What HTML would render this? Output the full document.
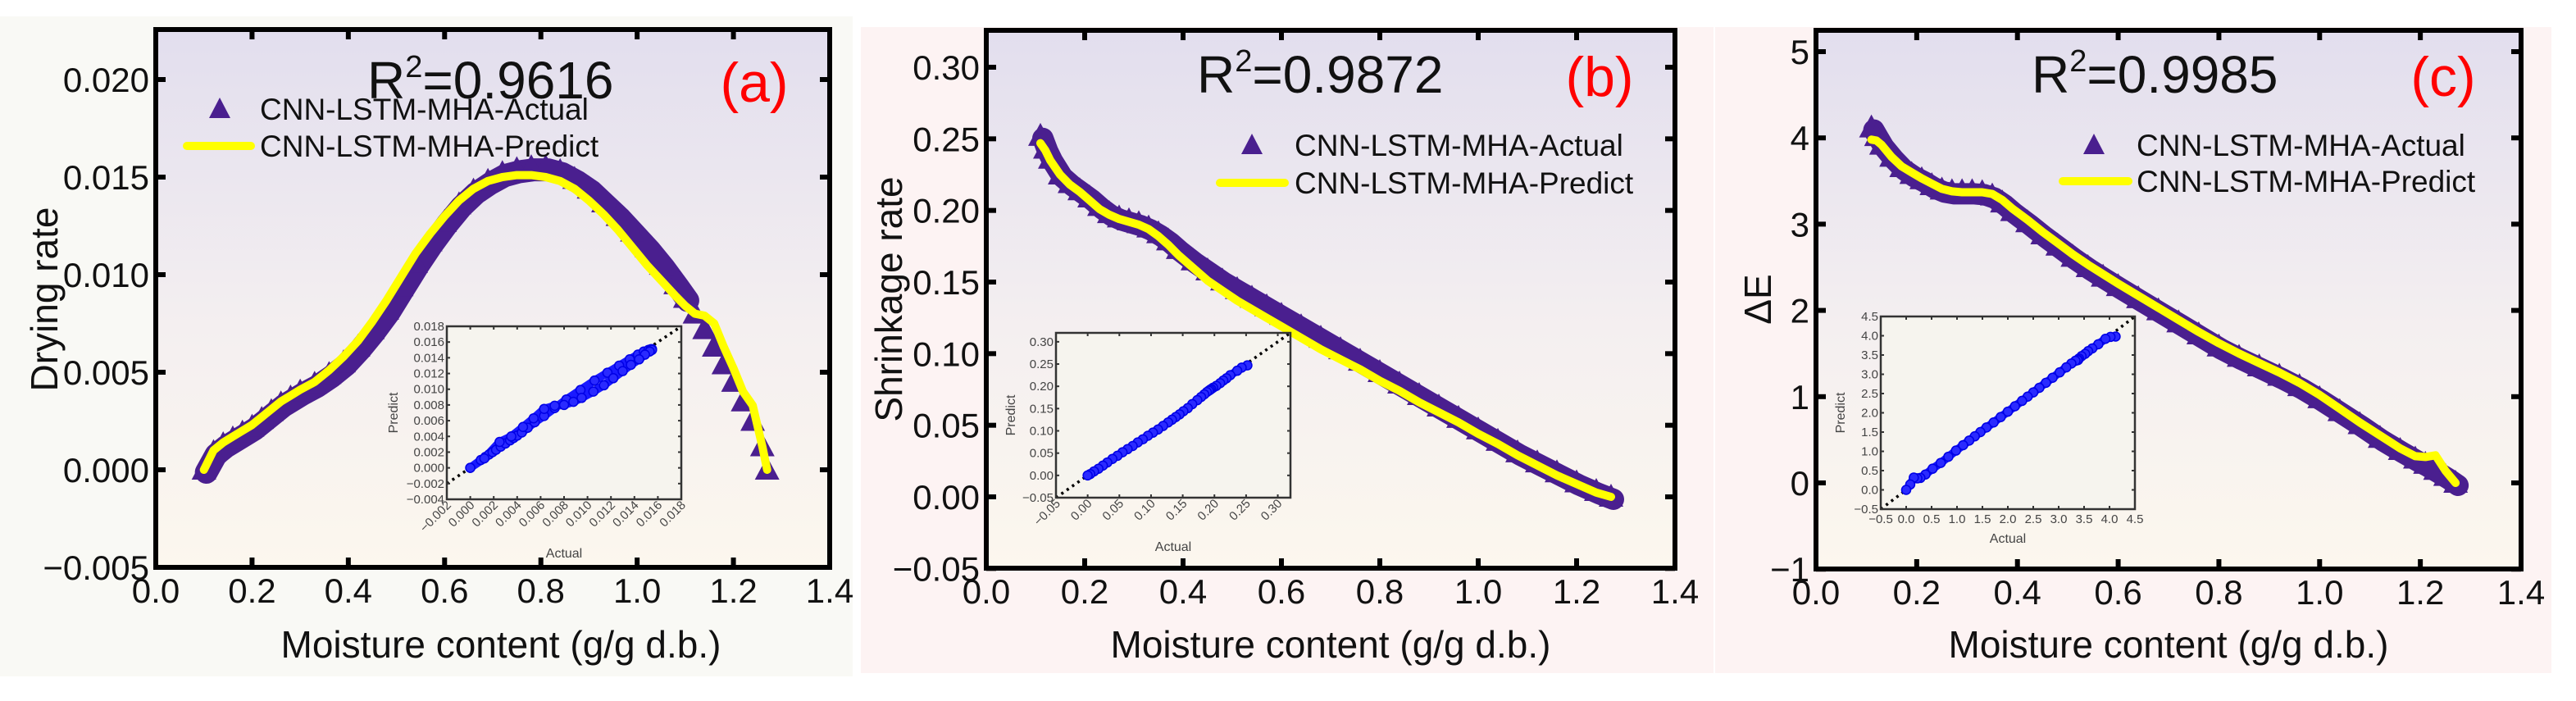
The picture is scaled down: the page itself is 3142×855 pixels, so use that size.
<!DOCTYPE html>
<html><head><meta charset="utf-8">
<style>
html,body{margin:0;padding:0;background:#fff;}
svg{display:block;font-family:"Liberation Sans",Arial,sans-serif;}
</style></head>
<body>
<svg id="fig" width="3142" height="855" viewBox="0 0 3142 855" xmlns="http://www.w3.org/2000/svg">
<defs>
<linearGradient id="plotbg" x1="0" y1="0" x2="0" y2="1">
<stop offset="0" stop-color="#e2deee"/>
<stop offset="0.55" stop-color="#f4eff0"/>
<stop offset="1" stop-color="#fcf7ee"/>
</linearGradient>
</defs>
<rect x="0" y="20" width="1040" height="805" fill="#f9f9f5"/>
<rect x="1050" y="33" width="1040" height="788" fill="#fdf3f3"/>
<rect x="2092" y="33" width="1020" height="788" fill="#fdf3f3"/>
</svg>
<script>
// ---------- Panel (a): Drying rate ----------
const aMoisture = [0.10,0.12,0.14,0.16,0.18,0.20,0.22,0.24,0.26,0.28,0.30,0.33,0.36,0.39,0.42,0.45,0.48,0.51,0.54,0.57,0.60,0.63,0.66,0.69,0.72,0.75,0.78,0.81,0.84,0.87,0.90,0.93,0.96,0.99,1.02,1.05,1.08,1.10,1.12,1.14,1.16,1.18,1.20,1.22,1.24,1.26,1.27];
const aActual   = [0.0000,0.0009,0.0013,0.0016,0.0019,0.0022,0.0026,0.0030,0.0034,0.0037,0.0040,0.0044,0.0049,0.0055,0.0063,0.0072,0.0082,0.0094,0.0106,0.0117,0.0127,0.0136,0.0143,0.0148,0.0152,0.0154,0.0155,0.0155,0.0153,0.0149,0.0144,0.0137,0.0130,0.0122,0.0114,0.0105,0.0095,0.0088,0.0080,0.0072,0.0063,0.0054,0.0045,0.0035,0.0025,0.0012,0.0000];
const aPredict  = [0.0000,0.0010,0.0014,0.0017,0.0020,0.0023,0.0027,0.0031,0.0035,0.0038,0.0041,0.0045,0.0051,0.0058,0.0066,0.0076,0.0087,0.0099,0.0111,0.0121,0.0130,0.0138,0.0144,0.0148,0.0150,0.0151,0.0151,0.0150,0.0148,0.0144,0.0138,0.0131,0.0123,0.0114,0.0105,0.0097,0.0089,0.0084,0.0080,0.0079,0.0075,0.0063,0.0052,0.0040,0.0033,0.0012,0.0000];
const aYTicks = [-0.005,0.000,0.005,0.010,0.015,0.020];
const aYLabels = ["\u22120.005","0.000","0.005","0.010","0.015","0.020"];
const aInsetTicks = [-0.002,0.000,0.002,0.004,0.006,0.008,0.010,0.012,0.014,0.016,0.018];
const aInsetYTicks = [-0.004,-0.002,0.000,0.002,0.004,0.006,0.008,0.010,0.012,0.014,0.016,0.018];

// ---------- Panel (b): Shrinkage rate ----------
const bMoisture = [0.11,0.12,0.13,0.15,0.17,0.19,0.21,0.23,0.25,0.27,0.29,0.31,0.33,0.35,0.37,0.39,0.42,0.45,0.48,0.51,0.54,0.57,0.60,0.64,0.68,0.72,0.76,0.80,0.84,0.88,0.92,0.96,1.00,1.04,1.08,1.12,1.16,1.20,1.24,1.27];
const bActual   = [0.252,0.243,0.236,0.225,0.219,0.214,0.209,0.203,0.198,0.195,0.193,0.191,0.188,0.184,0.179,0.173,0.165,0.158,0.151,0.145,0.139,0.133,0.127,0.119,0.111,0.103,0.095,0.087,0.079,0.071,0.063,0.055,0.047,0.039,0.031,0.024,0.017,0.010,0.004,0.000];
const bPredict  = [0.247,0.242,0.235,0.225,0.218,0.213,0.207,0.201,0.197,0.194,0.192,0.190,0.187,0.182,0.176,0.169,0.160,0.151,0.144,0.137,0.131,0.125,0.119,0.111,0.103,0.096,0.089,0.081,0.074,0.066,0.059,0.052,0.044,0.037,0.029,0.022,0.015,0.009,0.003,0.000];
const bYTicks = [-0.05,0.00,0.05,0.10,0.15,0.20,0.25,0.30];
const bYLabels = ["\u22120.05","0.00","0.05","0.10","0.15","0.20","0.25","0.30"];
const bInsetTicks = [-0.05,0.00,0.05,0.10,0.15,0.20,0.25,0.30];

// ---------- Panel (c): Delta E ----------
const cMoisture = [0.11,0.12,0.13,0.15,0.17,0.19,0.21,0.23,0.25,0.27,0.29,0.31,0.33,0.35,0.37,0.39,0.42,0.45,0.48,0.51,0.54,0.57,0.60,0.64,0.68,0.72,0.76,0.80,0.84,0.88,0.92,0.96,1.00,1.04,1.08,1.12,1.16,1.19,1.21,1.23,1.25,1.27];
const cActual   = [4.12,4.02,3.92,3.78,3.66,3.58,3.52,3.45,3.40,3.38,3.38,3.38,3.37,3.33,3.25,3.15,3.02,2.88,2.75,2.62,2.50,2.39,2.28,2.14,2.00,1.86,1.72,1.58,1.46,1.35,1.24,1.12,0.98,0.83,0.68,0.52,0.38,0.28,0.22,0.15,0.08,0.00];
const cPredict  = [3.98,3.97,3.92,3.78,3.67,3.60,3.53,3.47,3.41,3.38,3.37,3.37,3.37,3.35,3.28,3.18,3.05,2.91,2.78,2.65,2.53,2.42,2.31,2.17,2.03,1.89,1.75,1.62,1.50,1.39,1.28,1.16,1.02,0.86,0.70,0.55,0.40,0.31,0.30,0.32,0.14,0.00];
const cYTicks = [-1,0,1,2,3,4,5];
const cYLabels = ["\u22121","0","1","2","3","4","5"];
const cInsetTicks = [-0.5,0.0,0.5,1.0,1.5,2.0,2.5,3.0,3.5,4.0,4.5];
const cInsetLabels = ["\u22120.5","0.0","0.5","1.0","1.5","2.0","2.5","3.0","3.5","4.0","4.5"];

const xTicks = [0.0,0.2,0.4,0.6,0.8,1.0,1.2,1.4];
const xLabels = ["0.0","0.2","0.4","0.6","0.8","1.0","1.2","1.4"];

const NS = "http://www.w3.org/2000/svg";
const svg = document.getElementById('fig');
function mk(tag, attrs, parent, text){
  const e = document.createElementNS(NS, tag);
  for (const k in attrs) e.setAttribute(k, attrs[k]);
  if (text !== undefined) e.textContent = text;
  (parent || svg).appendChild(e);
  return e;
}
function fmt(v, d){ const s = Math.abs(v).toFixed(d); return (v < 0 ? "\u2212" : "") + s; }

function drawPanel(p){
  const g = mk('g', {});
  
  
  const X = v => p.L + (v - 0) / 1.4 * (p.R - p.L);
  const Y = v => p.y0px + (v - p.y0) / (p.y1 - p.y0) * (p.y1px - p.y0px);
  const bg = mk('rect', {x:p.L, y:p.T, width:p.R-p.L, height:p.B-p.T, fill:'url(#plotbg)'}, g);
  
  

  // dense band of overlapping triangles (actual series)
  let bd = '';
  let first = true;
  for (let i = 0; i < p.xs.length; i++){
    if (p.xs[i] > p.bandUntil) break;
    bd += (first ? 'M' : 'L') + (X(p.xs[i]) + 3).toFixed(1) + ',' + (Y(p.act[i]) + 3).toFixed(1);
    first = false;
  }
  const band = mk('path', {d:bd, fill:'none', stroke:'#4a1f8f', 'stroke-width':p.bandW, 'stroke-linejoin':'round', 'stroke-linecap':'round'}, g);
  
  

  const sg = mk('g', {fill:'#4a1f8f'}, g);
  
  
  for (let i = 0; i < p.xs.length; i++){
    const cx = X(p.xs[i]), cy = Y(p.act[i]);
    const t = mk('polygon', {points:`${cx-15},${cy+12} ${cx+15},${cy+12} ${cx},${cy-16}`}, sg);
    
    
  }
  // predict line
  let d = '';
  for (let i = 0; i < p.xs.length; i++) d += (i ? 'L' : 'M') + X(p.xs[i]).toFixed(1) + ',' + Y(p.pred[i]).toFixed(1);
  const ln = mk('path', {d, fill:'none', stroke:'#ffff00', 'stroke-width':10, 'stroke-linejoin':'round', 'stroke-linecap':'round'}, g);
  
  

  // frame
  const fr = mk('rect', {x:p.L, y:p.T, width:p.R-p.L, height:p.B-p.T, fill:'none', stroke:'#000', 'stroke-width':6}, g);
  
  
  for (let i = 0; i < xTicks.length; i++){
    const x = X(xTicks[i]);
    mk('line', {x1:x, x2:x, y1:p.B, y2:p.B-12, stroke:'#000','stroke-width':6}, g);
    mk('line', {x1:x, x2:x, y1:p.T, y2:p.T+12, stroke:'#000','stroke-width':6}, g);
    const t = mk('text', {x:x, y:p.B+43, 'font-size':42, 'text-anchor':'middle', fill:'#111'}, g, xLabels[i]);
    
    
  }
  for (let i = 0; i < p.yTicks.length; i++){
    const y = Y(p.yTicks[i]);
    mk('line', {x1:p.L, x2:p.L+12, y1:y, y2:y, stroke:'#000','stroke-width':6}, g);
    mk('line', {x1:p.R, x2:p.R-12, y1:y, y2:y, stroke:'#000','stroke-width':6}, g);
    const t = mk('text', {x:p.L-8, y:y+15, 'font-size':42, 'text-anchor':'end', fill:'#111'}, g, p.yLabels[i]);
    
    
  }
  const xt = mk('text', {x:(p.L+p.R)/2 + p.xtOff, y:802, 'font-size':46, 'text-anchor':'middle', fill:'#111'}, g, 'Moisture content (g/g d.b.)');
  
  
  const yt = mk('text', {x:0, y:0, 'font-size':46, 'text-anchor':'middle', fill:'#111', transform:`translate(${p.ytx},365) rotate(-90)`}, g, p.ytitle);
  
  
  const r2 = mk('text', {x:p.r2x, y:p.r2y, 'font-size':64, fill:'#111'}, g);
  
  
  mk('tspan', {}, r2, 'R');
  mk('tspan', {dy:-26, 'font-size':38}, r2, '2');
  mk('tspan', {dy:26}, r2, '=' + p.r2);
  const pl = mk('text', {x:p.lx, y:p.r2y+4, 'font-size':68, fill:'#ff0000', 'text-anchor':'middle'}, g, '(' + p.id + ')');
  
  
  const lg = mk('g', {}, g);
  
  
  const lt = p.legTri;
  const ltri = mk('polygon', {points:`${lt[0]-13},${lt[1]+11} ${lt[0]+13},${lt[1]+11} ${lt[0]},${lt[1]-14}`, fill:'#4a1f8f'}, lg);
  
  
  const l1 = mk('text', {x:p.legText, y:lt[1]+13, 'font-size':37, fill:'#111'}, lg, 'CNN-LSTM-MHA-Actual');
  
  
  const ll = mk('line', {x1:p.legLine[0], x2:p.legLine[1], y1:p.legLine[2], y2:p.legLine[2], stroke:'#ffff00','stroke-width':10,'stroke-linecap':'round'}, lg);
  
  
  const l2 = mk('text', {x:p.legText, y:p.legLine[2]+13, 'font-size':37, fill:'#111'}, lg, 'CNN-LSTM-MHA-Predict');
  
  

  // inset
  const ins = p.inset;
  const ig = mk('g', {}, g);
  
  
  const IX = v => ins.L + (v - ins.xmin) / (ins.xmax - ins.xmin) * (ins.R - ins.L);
  const IY = v => ins.B - (v - ins.ymin) / (ins.ymax - ins.ymin) * (ins.B - ins.T);
  mk('rect', {x:ins.L, y:ins.T, width:ins.R-ins.L, height:ins.B-ins.T, fill:'#f6f4ee'}, ig);
  const dl = mk('line', {x1:IX(Math.max(ins.xmin,ins.ymin)), y1:IY(Math.max(ins.xmin,ins.ymin)), x2:IX(Math.min(ins.xmax,ins.ymax)), y2:IY(Math.min(ins.xmax,ins.ymax)), stroke:'#000','stroke-width':3.5,'stroke-dasharray':'3 5'}, ig);
  
  
  let pd = '';
  for (let i = 0; i < p.xs.length; i++) pd += (i ? 'L' : 'M') + IX(p.act[i]).toFixed(1) + ',' + IY(p.pred[i]).toFixed(1);
  const pband = mk('path', {d:pd, fill:'none', stroke:'#1a1aff', 'stroke-width':10, 'stroke-linecap':'round', 'stroke-linejoin':'round'}, ig);
  
  
  const cg = mk('g', {fill:'#2a2aff', stroke:'#0000e6', 'stroke-width':1.5}, ig);
  
  
  for (let i = 0; i < p.xs.length; i++){
    const c = mk('circle', {cx:IX(p.act[i]), cy:IY(p.pred[i]), r:5.5}, cg);
    
    
  }
  mk('rect', {x:ins.L, y:ins.T, width:ins.R-ins.L, height:ins.B-ins.T, fill:'none', stroke:'#333','stroke-width':2.5}, ig);
  for (let i = 0; i < ins.xt.length; i++){
    const x = IX(ins.xt[i]);
    mk('line', {x1:x,x2:x,y1:ins.B,y2:ins.B-4,stroke:'#333','stroke-width':2}, ig);
    mk('line', {x1:x,x2:x,y1:ins.T,y2:ins.T+4,stroke:'#333','stroke-width':2}, ig);
    const lab = ins.xl ? ins.xl[i] : fmt(ins.xt[i], ins.dec);
    let t;
    if (ins.rot) t = mk('text', {x:0,y:0,'font-size':15,fill:'#444','text-anchor':'end',transform:`translate(${x+6},${ins.B+8}) rotate(-45)`}, ig, lab);
    else t = mk('text', {x:x,y:ins.B+17,'font-size':15,fill:'#444','text-anchor':'middle'}, ig, lab);
    
    
  }
  for (let i = 0; i < ins.yt.length; i++){
    const y = IY(ins.yt[i]);
    mk('line', {x1:ins.L,x2:ins.L+4,y1:y,y2:y,stroke:'#333','stroke-width':2}, ig);
    mk('line', {x1:ins.R,x2:ins.R-4,y1:y,y2:y,stroke:'#333','stroke-width':2}, ig);
    const lab = ins.yl ? ins.yl[i] : fmt(ins.yt[i], ins.dec);
    const t = mk('text', {x:ins.L-3,y:y+5,'font-size':15,fill:'#444','text-anchor':'end'}, ig, lab);
    
    
  }
  const ixt = mk('text', {x:(ins.L+ins.R)/2, y:ins.axY, 'font-size':16, fill:'#444','text-anchor':'middle'}, ig, 'Actual');
  
  
  const iyt = mk('text', {x:0,y:0,'font-size':16,fill:'#444','text-anchor':'middle',transform:`translate(${ins.ayX},${(ins.T+ins.B)/2}) rotate(-90)`}, ig, 'Predict');
  
  
}

drawPanel({id:'a', L:190, R:1012, T:36, B:692, y0:0, y0px:573, y1:0.02, y1px:97,
  xs:aMoisture, act:aActual, pred:aPredict, yTicks:aYTicks, yLabels:aYLabels, bandUntil:1.10, bandW:28,
  ytitle:'Drying rate', ytx:70, xtOff:10, r2:'0.9616', r2x:448, r2y:120, lx:920,
  legTri:[268,133], legText:317, legLine:[228,306,178],
  inset:{L:545,R:831,T:398,B:609,xmin:-0.002,xmax:0.018,ymin:-0.004,ymax:0.018,xt:aInsetTicks,yt:aInsetYTicks,dec:3,rot:true,axY:680,ayX:485}});

drawPanel({id:'b', L:1203, R:2043, T:37, B:693, y0:0, y0px:606, y1:0.30, y1px:82,
  xs:bMoisture, act:bActual, pred:bPredict, yTicks:bYTicks, yLabels:bYLabels, bandUntil:1.3, bandW:26,
  ytitle:'Shrinkage rate', ytx:1100, xtOff:0, r2:'0.9872', r2x:1460, r2y:113, lx:1951,
  legTri:[1527,177], legText:1579, legLine:[1488,1567,223],
  inset:{L:1288,R:1574,T:406,B:607,xmin:-0.05,xmax:0.32,ymin:-0.05,ymax:0.32,xt:bInsetTicks,yt:bInsetTicks,dec:2,rot:true,axY:672,ayX:1238}});

drawPanel({id:'c', L:2215, R:3075, T:37, B:694, y0:0, y0px:589, y1:5, y1px:63,
  xs:cMoisture, act:cActual, pred:cPredict, yTicks:cYTicks, yLabels:cYLabels, bandUntil:1.3, bandW:26,
  ytitle:'\u0394E', ytx:2160, xtOff:0, r2:'0.9985', r2x:2478, r2y:113, lx:2980,
  legTri:[2554,177], legText:2606, legLine:[2516,2596,221],
  inset:{L:2294,R:2604,T:386,B:621,xmin:-0.5,xmax:4.5,ymin:-0.5,ymax:4.5,xt:cInsetTicks,yt:cInsetTicks,xl:cInsetLabels,yl:cInsetLabels,dec:1,rot:false,axY:662,ayX:2250}});
</script>
</body></html>
